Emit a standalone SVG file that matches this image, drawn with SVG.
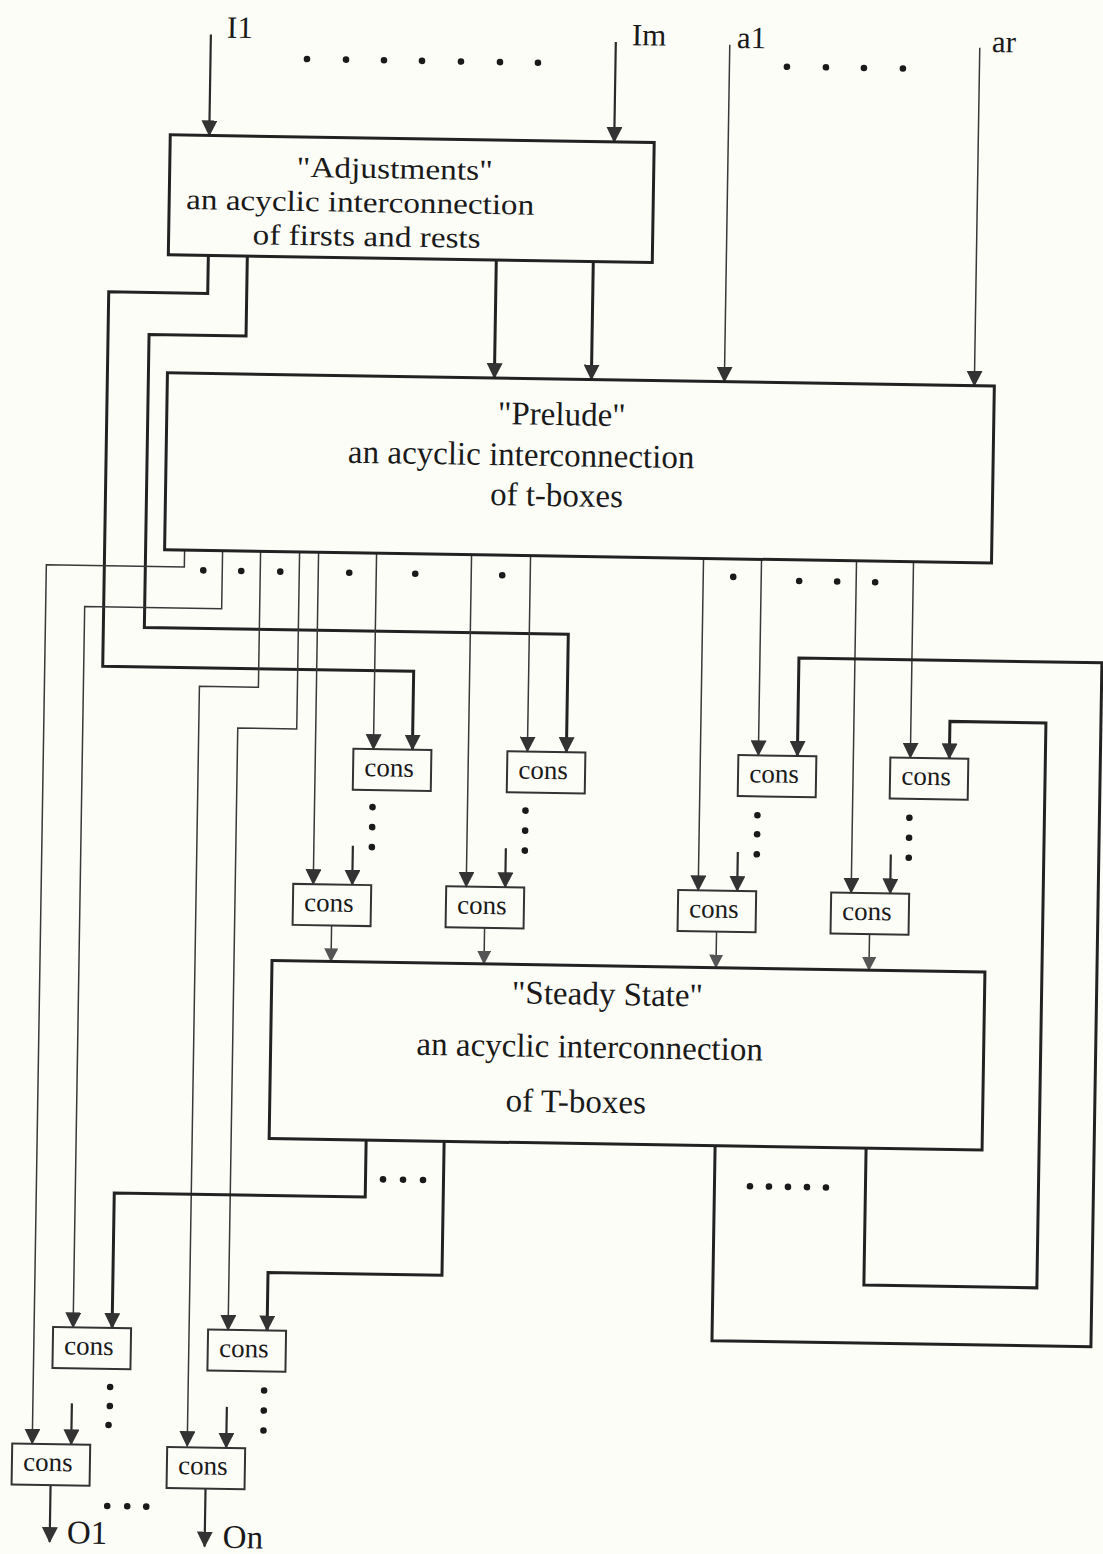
<svg xmlns="http://www.w3.org/2000/svg" width="1103" height="1554" viewBox="0 0 1103 1554">
<style>
.box{fill:none;stroke:#222;stroke-width:3}
.cbox{fill:none;stroke:#333;stroke-width:2}
.thick{fill:none;stroke:#222;stroke-width:3}
.med{fill:none;stroke:#2a2a2a;stroke-width:2.2}
.thin{fill:none;stroke:#383838;stroke-width:1.5}
.t{font-family:"Liberation Serif","Times New Roman",serif;fill:#1a1a1a}
.big{font-size:33px;text-anchor:middle}
.adj{font-size:29px;text-anchor:middle}
.lbl{font-size:31px}
.cn{font-size:27px;text-anchor:middle}
.dot{fill:#1a1a1a}
</style>
<defs>
<marker id="ah" viewBox="0 0 16 16" refX="15" refY="8" markerWidth="16" markerHeight="16" markerUnits="userSpaceOnUse" orient="auto"><path d="M0,0 L16,8 L0,16 z" fill="#333"/></marker>
<marker id="ahs" viewBox="0 0 16 16" refX="15" refY="8" markerWidth="14" markerHeight="14" markerUnits="userSpaceOnUse" orient="auto"><path d="M0,0 L16,8 L0,16 z" fill="#555"/></marker>
</defs>
<rect x="0" y="0" width="1103" height="1554" fill="#fdfdf8"/>
<g transform="rotate(0.92 551 777)">
<g id="connectors">
<path class="med" d="M199,40 V141" marker-end="url(#ah)"/>
<path class="med" d="M604,41 V141" marker-end="url(#ah)"/>
<path class="thin" d="M718,42 V379" marker-end="url(#ah)"/>
<path class="thin" d="M968,41 V379" marker-end="url(#ah)"/>
<path class="thick" d="M488,261 V379" marker-end="url(#ah)"/>
<path class="thick" d="M585,261 V379" marker-end="url(#ah)"/>
<path class="thick" d="M200,261 V299 H101 V673.5 H412 V752" marker-end="url(#ah)"/>
<path class="thick" d="M239,261 V341 H142 V634 H566 V752" marker-end="url(#ah)"/>
<path class="thin" d="M181,556 V573 H43 V1452" marker-end="url(#ah)"/>
<path class="thin" d="M219,556 V614 H82 V1335" marker-end="url(#ah)"/>
<path class="thin" d="M257,556 V692 H198 V1452" marker-end="url(#ah)"/>
<path class="thin" d="M296,556 V733 H237 V1335" marker-end="url(#ah)"/>
<path class="thin" d="M315,556 V888" marker-end="url(#ah)"/>
<path class="thin" d="M373,556 V752" marker-end="url(#ah)"/>
<path class="thin" d="M468,556 V888" marker-end="url(#ah)"/>
<path class="thin" d="M527,556 V752" marker-end="url(#ah)"/>
<path class="thin" d="M700,556 V888" marker-end="url(#ah)"/>
<path class="thin" d="M758,556 V752" marker-end="url(#ah)"/>
<path class="thin" d="M853,556 V888" marker-end="url(#ah)"/>
<path class="thin" d="M910,556 V752" marker-end="url(#ah)"/>
<path class="med" d="M354,849 V888" marker-end="url(#ah)"/>
<path class="med" d="M507,849 V888" marker-end="url(#ah)"/>
<path class="med" d="M739,849 V888" marker-end="url(#ah)"/>
<path class="med" d="M892,849 V888" marker-end="url(#ah)"/>
<path class="thin" d="M334,929 V965" marker-end="url(#ahs)"/>
<path class="thin" d="M487,929 V965" marker-end="url(#ahs)"/>
<path class="thin" d="M719,929 V965" marker-end="url(#ahs)"/>
<path class="thin" d="M872,929 V965" marker-end="url(#ahs)"/>
<path class="thick" d="M372,1143 V1200 H121 V1335" marker-end="url(#ah)"/>
<path class="thick" d="M450,1143 V1277 H276 V1335" marker-end="url(#ah)"/>
<path class="thick" d="M721,1143 V1338 H1100 V654 H797 V752" marker-end="url(#ah)"/>
<path class="thick" d="M872,1143 V1280 H1045 V715 H949 V752" marker-end="url(#ah)"/>
<path class="med" d="M82,1411 V1452" marker-end="url(#ah)"/>
<path class="med" d="M237,1412 V1453" marker-end="url(#ah)"/>
<path class="med" d="M62,1493 V1550" marker-end="url(#ah)"/>
<path class="med" d="M217,1494 V1552" marker-end="url(#ah)"/>
</g>
<g id="adjustments">
<rect class="box" x="160" y="141" width="484" height="120"/>
<text class="t adj" x="385" y="181" textLength="196" lengthAdjust="spacingAndGlyphs">"Adjustments"</text>
<text class="t adj" x="351" y="215" textLength="348" lengthAdjust="spacingAndGlyphs">an acyclic interconnection</text>
<text class="t adj" x="358" y="249" textLength="228" lengthAdjust="spacingAndGlyphs">of firsts and rests</text>
</g>
<g id="prelude">
<rect class="box" x="161" y="379" width="827" height="177"/>
<text class="t big" x="556" y="425">"Prelude"</text>
<text class="t big" x="516" y="466">an acyclic interconnection</text>
<text class="t big" x="552" y="506">of t-boxes</text>
</g>
<g id="steady-state">
<rect class="box" x="275" y="965" width="713" height="178"/>
<text class="t big" x="611" y="1004">"Steady State"</text>
<text class="t big" x="594" y="1057">an acyclic interconnection</text>
<text class="t big" x="581" y="1112">of T-boxes</text>
</g>
<g id="cons1"><rect class="cbox" x="353" y="752" width="78" height="41"/><text class="t cn" x="389" y="779">cons</text></g>
<g id="cons2"><rect class="cbox" x="507" y="752" width="78" height="41"/><text class="t cn" x="543" y="779">cons</text></g>
<g id="cons3"><rect class="cbox" x="738" y="752" width="78" height="41"/><text class="t cn" x="774" y="779">cons</text></g>
<g id="cons4"><rect class="cbox" x="890" y="752" width="78" height="41"/><text class="t cn" x="926" y="779">cons</text></g>
<g id="cons5"><rect class="cbox" x="295" y="888" width="78" height="41"/><text class="t cn" x="331" y="915">cons</text></g>
<g id="cons6"><rect class="cbox" x="448" y="888" width="78" height="41"/><text class="t cn" x="484" y="915">cons</text></g>
<g id="cons7"><rect class="cbox" x="680" y="888" width="78" height="41"/><text class="t cn" x="716" y="915">cons</text></g>
<g id="cons8"><rect class="cbox" x="833" y="888" width="78" height="41"/><text class="t cn" x="869" y="915">cons</text></g>
<g id="cons9"><rect class="cbox" x="62" y="1335" width="78" height="41"/><text class="t cn" x="98" y="1362">cons</text></g>
<g id="cons10"><rect class="cbox" x="217" y="1335" width="78" height="41"/><text class="t cn" x="253" y="1362">cons</text></g>
<g id="cons11"><rect class="cbox" x="23" y="1452" width="78" height="41"/><text class="t cn" x="59" y="1479">cons</text></g>
<g id="cons12"><rect class="cbox" x="178" y="1453" width="78" height="41"/><text class="t cn" x="214" y="1480">cons</text></g>
<g id="labels">
<text class="t lbl" x="215" y="43">I1</text>
<text class="t lbl" x="620" y="44">Im</text>
<text class="t lbl" x="725" y="45">a1</text>
<text class="t lbl" x="980" y="45">ar</text>
<text class="t lbl" x="79" y="1551" style="font-size:33px">O1</text>
<text class="t lbl" x="235" y="1553" style="font-size:33px">On</text>
</g>
<g id="ellipses" class="dot">
<circle cx="295.5" cy="63" r="3.3"/><circle cx="334.5" cy="63" r="3.3"/><circle cx="372.5" cy="63" r="3.3"/><circle cx="410.5" cy="63" r="3.3"/><circle cx="449.5" cy="63" r="3.3"/><circle cx="488.5" cy="63" r="3.3"/><circle cx="526.5" cy="63" r="3.3"/>
<circle cx="775.5" cy="63" r="3.3"/><circle cx="814.5" cy="63" r="3.3"/><circle cx="852.5" cy="63" r="3.3"/><circle cx="891.5" cy="63" r="3.3"/>
<circle cx="200" cy="576" r="3.3"/><circle cx="238" cy="576" r="3.3"/><circle cx="277" cy="576" r="3.3"/><circle cx="346" cy="576" r="3.3"/><circle cx="412" cy="576" r="3.3"/><circle cx="499" cy="576" r="3.3"/>
<circle cx="730" cy="574" r="3.3"/><circle cx="796" cy="577" r="3.3"/><circle cx="834" cy="577" r="3.3"/><circle cx="872" cy="577" r="3.3"/>
<circle cx="373" cy="810" r="3.3"/><circle cx="373" cy="830" r="3.3"/><circle cx="373" cy="850" r="3.3"/>
<circle cx="526" cy="811" r="3.3"/><circle cx="526" cy="831" r="3.3"/><circle cx="526" cy="851" r="3.3"/>
<circle cx="758" cy="812" r="3.3"/><circle cx="758" cy="831" r="3.3"/><circle cx="758" cy="851" r="3.3"/>
<circle cx="910" cy="812" r="3.3"/><circle cx="910" cy="832" r="3.3"/><circle cx="910" cy="852" r="3.3"/>
<circle cx="389.5" cy="1182" r="3.3"/><circle cx="409.5" cy="1182" r="3.3"/><circle cx="429.5" cy="1182" r="3.3"/>
<circle cx="756.5" cy="1183" r="3.3"/><circle cx="775.5" cy="1183" r="3.3"/><circle cx="794.5" cy="1183" r="3.3"/><circle cx="813.5" cy="1183" r="3.3"/><circle cx="832.5" cy="1183" r="3.3"/>
<circle cx="120" cy="1394" r="3.3"/><circle cx="120" cy="1413" r="3.3"/><circle cx="119" cy="1432" r="3.3"/>
<circle cx="274" cy="1395" r="3.3"/><circle cx="274" cy="1415" r="3.3"/><circle cx="274" cy="1435" r="3.3"/>
<circle cx="119" cy="1513" r="3.3"/><circle cx="139" cy="1513" r="3.3"/><circle cx="158" cy="1513" r="3.3"/>
</g>
</g>
</svg>
